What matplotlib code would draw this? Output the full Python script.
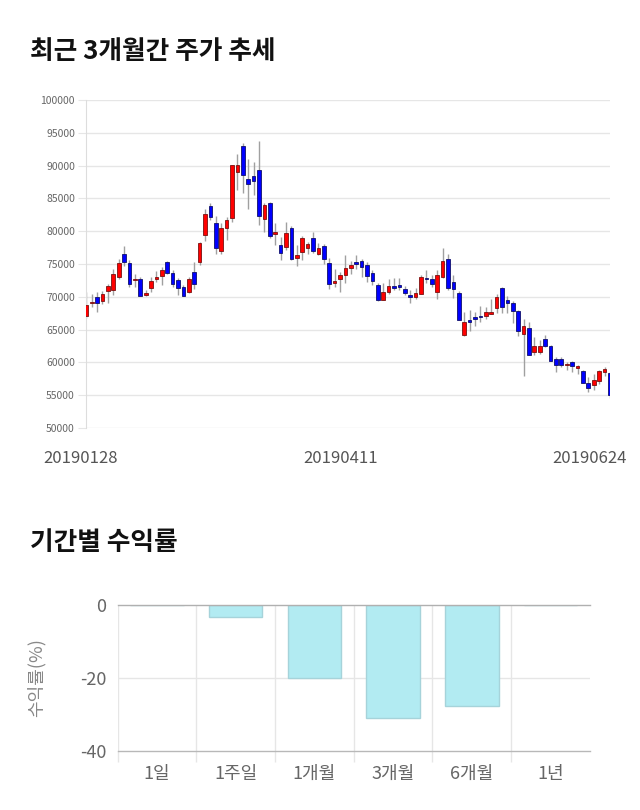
import numpy as np
import matplotlib
matplotlib.use("Agg")
import matplotlib.pyplot as plt
from matplotlib.transforms import ScaledTranslation

plt.rcParams['font.family'] = ['Noto Sans CJK KR', 'DejaVu Sans']
plt.rcParams['axes.unicode_minus'] = False

# daily candles 20190128 .. 20190624 (open, high, low, close)
opens = [67100, 69050, 69900, 69300, 70900, 71100, 72950, 76500, 75100, 72500,
         72700, 70350, 71400, 72750, 73200, 75250, 73700, 72550, 71500, 70800,
         73750, 75300, 79350, 83800, 81200, 77000, 80550, 82000, 89000, 93050,
         87950, 88400, 89300, 81900, 84300, 79650, 77900, 77650, 80500, 75950,
         76850, 77400, 78900, 76600, 77700, 75100, 72050, 72650, 73250, 74450,
         75350, 75500, 74900, 73650, 71850, 69550, 70800, 71600, 71800, 71150,
         70250, 70000, 70500, 72900, 72700, 70800, 73050, 75800, 72200, 70550,
         64250, 66450, 66950, 67150, 67050, 67450, 68350, 71400, 69500, 69000,
         67850, 64300, 65300, 61650, 61650, 63550, 62450, 60450, 60450, 59650,
         60050, 59200, 58700, 56900, 56550, 57150, 58550, 58400]
highs = [70750, 70400, 70700, 70850, 72000, 74300, 75750, 77700, 75600, 73450,
         73050, 71000, 73050, 73950, 74550, 75450, 74050, 72800, 71750, 72950,
         75300, 78400, 83450, 84350, 82300, 81300, 82200, 90050, 91800, 93400,
         90950, 90550, 93750, 84250, 84500, 81200, 79150, 81350, 80850, 77900,
         79250, 78400, 79900, 78150, 78050, 75850, 74200, 73800, 76350, 75500,
         76450, 75700, 75350, 74050, 72150, 72050, 72700, 72800, 72800, 71600,
         71100, 71350, 73300, 74050, 73300, 74050, 77500, 76500, 73300, 70850,
         67700, 68050, 67700, 68600, 68450, 69600, 70500, 71450, 70100, 69400,
         67950, 66550, 66200, 63800, 63400, 64250, 62600, 60850, 60850, 60050,
         60250, 59550, 58800, 57800, 58300, 58900, 59300, 58550]
lows = [66800, 68450, 67700, 68950, 69100, 70250, 72650, 74650, 71500, 71500,
        70100, 70200, 70750, 72300, 71750, 73550, 71500, 70250, 70100, 70600,
        71250, 74800, 78550, 81700, 76600, 76600, 78650, 81450, 86250, 85850,
        83350, 85500, 80950, 79900, 78900, 77900, 75600, 77100, 75600, 74700,
        75600, 76600, 76700, 76350, 75000, 71250, 71500, 70750, 72050, 73550,
        74200, 72950, 72300, 71750, 69400, 69500, 70500, 71000, 71000, 70250,
        69000, 69600, 70400, 72150, 71500, 69600, 72800, 71000, 69750, 66450,
        64000, 64800, 65500, 66200, 66550, 67350, 67550, 67550, 67550, 66000,
        64000, 57900, 61100, 61100, 61350, 62350, 60200, 58550, 59300, 58800,
        58550, 58200, 56850, 55500, 55750, 56650, 57900, 54650]
closes = [68800, 69150, 69000, 70400, 71600, 73450, 75100, 75300, 72000, 72550,
          70200, 70650, 72350, 73000, 74050, 73700, 72000, 71300, 70200, 72700,
          72000, 78250, 82550, 82200, 77400, 80550, 81700, 90050, 90050, 88500,
          87200, 87700, 82350, 84000, 79300, 79900, 76700, 79800, 75800, 76450,
          78900, 78050, 77000, 77500, 75800, 71950, 72450, 73250, 74450, 74800,
          75050, 74550, 73200, 72450, 69450, 70800, 71700, 71400, 71450, 70600,
          70000, 70650, 72950, 72700, 72000, 73400, 75400, 71400, 71150, 66500,
          66100, 66150, 66550, 66850, 67750, 67700, 70000, 68450, 69000, 67850,
          64800, 65500, 61200, 62500, 62500, 62500, 60250, 59650, 59550, 59700,
          59450, 59200, 56900, 56150, 57300, 58650, 59000, 55000]
date_labels = ["20190128", "20190411", "20190624"]
date_idx = [0, 49, 97]

periods = ["1일", "1주일", "1개월", "3개월", "6개월", "1년"]
returns = [0.0, -3.2, -19.9, -30.9, -27.6, 0.0]

fig = plt.figure(figsize=(6.4, 8.1), dpi=100)

fig.text(0.047, 0.936, "최근 3개월간 주가 추세", fontsize=18.5, fontweight='bold',
         va='center', ha='left', color='#111111')
fig.text(0.047, 0.330, "기간별 수익률", fontsize=18.5, fontweight='bold',
         va='center', ha='left', color='#111111')

# ---- candlestick chart ----
ax = fig.add_axes([0.1344, 0.4716, 0.819, 0.4049])
o = np.array(opens); h = np.array(highs); l = np.array(lows); c = np.array(closes)
x = np.arange(len(o))
up = c >= o
ax.vlines(x, l, h, color='#a0a0a0', lw=1, zorder=2)
bottom = np.minimum(o, c)
height = np.maximum(np.abs(c - o), 180)
ax.bar(x[up], height[up], bottom=bottom[up], width=0.68, color='#ff0000',
       edgecolor='#7a1010', linewidth=0.6, zorder=3)
ax.bar(x[~up], height[~up], bottom=bottom[~up], width=0.68, color='#0000ff',
       edgecolor='#10106a', linewidth=0.6, zorder=3)

ax.set_xlim(-0.05, len(o) - 0.95)
ax.set_ylim(50000, 100000)
ax.set_yticks(np.arange(50000, 100001, 5000))
ax.yaxis.grid(True, color='#e6e6e6', lw=1)
ax.set_axisbelow(True)
for s in ['top', 'right', 'bottom']:
    ax.spines[s].set_visible(False)
ax.spines['left'].set_color('#dddddd')
ax.tick_params(axis='y', labelsize=7.5, labelcolor='#666666', color='#e6e6e6',
               length=6, pad=2)
ax.set_xticks(date_idx)
ax.set_xticklabels(date_labels)
ax.tick_params(axis='x', length=0, labelsize=12, labelcolor='#555555', pad=16)
shifts = [-6, -10, -20]
for lab, dx in zip(ax.get_xticklabels(), shifts):
    lab.set_transform(lab.get_transform() + ScaledTranslation(dx / 100, 0, fig.dpi_scale_trans))

# ---- period returns ----
ax2 = fig.add_axes([0.1836, 0.0728, 0.738, 0.1802])
pos = np.arange(len(periods))
ax2.bar(pos, returns, width=0.68, color='#b2ebf2', edgecolor='#a6d3da',
        linewidth=1, zorder=3)
ax2.set_xlim(-0.5, len(periods) - 0.5)
ax2.set_ylim(-40, 0)
ax2.set_yticks([0, -20, -40])
ax2.set_xticks(pos)
ax2.set_xticklabels(periods)
ax2.set_xticks(pos - 0.5, minor=True)
for s in ax2.spines.values():
    s.set_visible(False)
ax2.axhline(-20, color='#e6e6e6', lw=1, zorder=1)
ax2.axhline(0, color='#b0b0b0', lw=1, zorder=4, clip_on=False)
ax2.axhline(-40, color='#b8b8b8', lw=1, zorder=4, clip_on=False)
for b in pos - 0.5:
    ax2.axvline(b, color='#e6e6e6', lw=1, zorder=1)
ax2.tick_params(axis='x', which='major', length=0, labelsize=13,
                labelcolor='#666666', pad=10)
ax2.tick_params(axis='x', which='minor', length=8, color='#e6e6e6', width=1)
ax2.tick_params(axis='y', length=0, labelsize=13, labelcolor='#666666', pad=8)
ax2.set_ylabel("수익률(%)", fontsize=13, color='#888888')
ax2.yaxis.set_label_coords(-0.153, 0.5)

fig.savefig("out.png", dpi=100)
